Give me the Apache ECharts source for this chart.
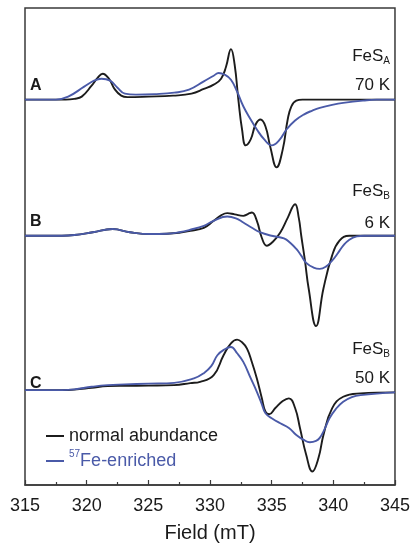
<!DOCTYPE html>
<html>
<head>
<meta charset="utf-8">
<style>
  html, body { margin: 0; padding: 0; background: #fff; }
  #chart { width: 413px; height: 548px; }
</style>
<script src="https://cdn.jsdelivr.net/npm/echarts@6/dist/echarts.min.js"></script>
</head>
<body>
<div id="chart"></div>
<script>
// EPR spectra, field in mT, signal in arbitrary units (derivative mode)
const fieldTicks = [315, 320, 325, 330, 335, 340, 345];
const panelLetters = ['A', 'B', 'C'];
const clusterNames = ['A', 'B', 'B'];
const temperatures = ['70 K', '6 K', '50 K'];
const baselines = [387, 250.3, 95.3];

// Panel A: FeS_A, 70 K
const aNormal = [
  [315, 0], [318.3, 0], [319.0, 0.8], [319.6, 3], [320.4, 14], [320.9, 22], [321.3, 26],
  [321.8, 21], [322.3, 10], [322.8, 4], [323.3, 2.5], [325, 3], [327, 4], [328.5, 6],
  [329.5, 10.7], [330.3, 15], [330.9, 21], [331.3, 33], [331.7, 50.7], [332.0, 35],
  [332.3, 0], [332.6, -30], [332.9, -46], [333.3, -40], [333.7, -25], [334.1, -20],
  [334.5, -27], [334.9, -48], [335.4, -68], [335.9, -50], [336.3, -20], [336.6, -6.7],
  [337.0, -1], [337.5, 0], [345, 0]
];
const aEnriched = [
  [315, 0], [317.5, 0], [318.5, 3], [319.8, 13], [320.6, 19], [321.2, 21], [321.9, 19],
  [322.5, 12], [323.1, 6], [324, 5], [325.5, 5.5], [327.1, 7], [328.3, 10], [329.5, 18.3],
  [330.3, 24], [330.7, 26.7], [331.2, 25], [331.7, 20], [332.2, 8], [332.7, -6.7],
  [333.3, -20], [333.8, -30], [334.4, -40], [335.0, -46], [335.6, -41], [336.2, -30],
  [336.9, -21], [337.6, -15], [338.3, -11], [338.9, -8.3], [340, -5], [340.8, -3.3],
  [342.4, -1], [343.5, 0], [345, 0]
];

// Panel B: FeS_B, 6 K
const bNormal = [
  [315, 0], [318, 0], [319, 0.7], [320.5, 3.5], [322.1, 6.7], [323.5, 3.5], [325.2, 1.7],
  [326.5, 2], [327.5, 3], [328.4, 5], [329.5, 8], [330.3, 15], [330.9, 20.5], [331.4, 22.7],
  [332.0, 21.5], [332.7, 20], [333.1, 22], [333.4, 23.3], [333.8, 15], [334.2, -2],
  [334.6, -10], [335.1, -6], [335.7, 3.3], [336.3, 18], [336.9, 31.7], [337.2, 18],
  [337.4, 0], [337.7, -25], [338.0, -53], [338.6, -90.7], [339.2, -53], [339.9, -20],
  [340.5, -5], [341.3, 0], [345, 0]
];
const bEnriched = [
  [315, 0], [318, 0], [319, 0.7], [320.5, 3.5], [322.1, 6.7], [323.5, 3.5], [325.2, 1.7],
  [326.5, 2], [327.5, 3.5], [328.4, 6], [329.5, 10], [330.3, 15], [331.4, 19.3],
  [332.1, 17.5], [332.7, 13.3], [333.4, 8], [334.1, 3.3], [335, 0], [336, -2.7],
  [336.5, -7], [337, -13.3], [337.4, -20], [337.8, -27.3], [338.4, -32], [338.9, -33.3],
  [339.4, -31], [339.9, -25], [340.4, -17], [340.8, -10], [341.3, -4], [341.9, -0.7],
  [342.5, 0], [345, 0]
];

// Panel C: FeS_B, 50 K
const cNormal = [
  [315, 0], [318, 0], [319, 0.5], [320.4, 2.3], [321.7, 4], [323.1, 4.3], [325, 4.5],
  [327.1, 5], [328.4, 7], [329.2, 8.3], [330.3, 15], [331.1, 35], [331.7, 47], [332.2, 50.7],
  [332.6, 48], [333.0, 41.7], [333.4, 28], [333.8, 11.7], [334.2, -8], [334.5, -21.7],
  [334.8, -24.3], [335.3, -18], [335.9, -11], [336.4, -8.3], [336.9, -18], [337.3, -38.3],
  [337.8, -65], [338.3, -81.7], [338.8, -68], [339.2, -45], [339.9, -18.3], [340.8, -6.7],
  [342.2, -3.3], [345, -2.3]
];
const cEnriched = [
  [315, 0], [318, 0], [319, 0.7], [320.4, 3.3], [321.7, 5], [323.1, 5.7], [325, 6.5],
  [327.1, 7.3], [328.7, 11.7], [329.5, 17], [330.1, 24], [330.6, 35], [331.2, 41],
  [331.7, 43.3], [332.2, 37], [332.7, 28.3], [333.3, 12], [333.8, -1.7], [334.2, -14],
  [334.5, -23.3], [335.1, -29], [335.7, -33.3], [336.4, -38], [337.0, -45], [337.6, -50],
  [338.1, -52.3], [338.6, -51], [338.9, -48], [339.3, -39], [339.7, -28], [340.2, -19],
  [340.8, -11.7], [341.5, -7], [342.2, -5], [345, -2.3]
];

const NORMAL = 'normal abundance';
const ENRICHED = '57Fe-enriched';
const BLACK = '#1c1c1c';
const BLUE = '#4a5aa8';
const FONT = '"Liberation Sans", Arial, sans-serif';

const normalTraces = [aNormal, bNormal, cNormal];
const enrichedTraces = [aEnriched, bEnriched, cEnriched];

function shifted(trace, base) {
  return trace.map(p => [p[0], p[1] + base]);
}

function lineSeries(name, color, trace, base) {
  return {
    type: 'line',
    name: name,
    data: shifted(trace, base),
    smooth: 0.45,
    showSymbol: false,
    symbol: 'none',
    animation: false,
    lineStyle: { color: color, width: 1.9 },
    itemStyle: { color: color },
    z: color === BLUE ? 3 : 2
  };
}

const series = [];
normalTraces.forEach((t, i) => series.push(lineSeries(NORMAL, BLACK, t, baselines[i])));
enrichedTraces.forEach((t, i) => series.push(lineSeries(ENRICHED, BLUE, t, baselines[i])));

// panel annotations
const letterY = [87, 222.5, 384.5];
const clusterY = [56, 191.5, 349];
const tempY = [85, 223, 378.5];
const graphics = [];
panelLetters.forEach((L, i) => {
  graphics.push({
    type: 'text', left: 30, top: letterY[i] - 9,
    style: { text: L, font: 'bold 16px ' + FONT, fill: '#1a1a1a' }
  });
  graphics.push({
    type: 'text', x: 390, y: clusterY[i],
    style: {
      text: '{m|FeS}{s|' + clusterNames[i] + '}',
      align: 'right', verticalAlign: 'middle',
      rich: {
        m: { fontSize: 17, lineHeight: 20, fontFamily: FONT, fill: '#1a1a1a' },
        s: { fontSize: 10, lineHeight: 10, verticalAlign: 'bottom', fontFamily: FONT, fill: '#1a1a1a' }
      }
    }
  });
  graphics.push({
    type: 'text', x: 390, y: tempY[i],
    style: {
      text: temperatures[i], align: 'right', verticalAlign: 'middle',
      font: '17px ' + FONT, fill: '#1a1a1a'
    }
  });
});

const chart = echarts.init(document.getElementById('chart'), null, { renderer: 'canvas' });
chart.setOption({
  animation: false,
  backgroundColor: '#ffffff',
  grid: {
    left: 25, right: 16, top: 8, bottom: 61,
    show: true, borderColor: '#3a3a3a', borderWidth: 1.5, backgroundColor: 'transparent'
  },
  xAxis: {
    type: 'value', min: fieldTicks[0], max: fieldTicks[fieldTicks.length - 1], interval: 5,
    name: 'Field (mT)', nameLocation: 'middle', nameGap: 38,
    nameTextStyle: { fontSize: 20, color: '#1a1a1a', fontFamily: FONT },
    axisLine: { show: true, lineStyle: { color: '#3a3a3a', width: 1.5 } },
    axisTick: { show: true, inside: true, length: 5, lineStyle: { color: '#3a3a3a', width: 1.2 } },
    minorTick: { show: true, splitNumber: 2, length: 3, lineStyle: { color: '#3a3a3a', width: 1.2 } },
    splitLine: { show: false },
    axisLabel: {
      margin: 12, fontSize: 18, color: '#1a1a1a', fontFamily: FONT,
      showMinLabel: true, showMaxLabel: true
    }
  },
  yAxis: {
    type: 'value', min: 0, max: 479, show: false, splitLine: { show: false }
  },
  legend: {
    orient: 'vertical', left: 46, top: 424, padding: 0, itemWidth: 18, itemHeight: 2, itemGap: 1,
    icon: 'rect', selectedMode: false,
    data: [
      { name: NORMAL, textStyle: { color: '#1a1a1a' } },
      { name: ENRICHED, textStyle: { color: BLUE } }
    ],
    textStyle: {
      fontSize: 18, lineHeight: 24, fontFamily: FONT,
      rich: {
        sup: { fontSize: 10, lineHeight: 10, verticalAlign: 'top', color: BLUE, fontFamily: FONT },
        t: { fontSize: 18, lineHeight: 24, color: BLUE, fontFamily: FONT },
        n: { fontSize: 18, lineHeight: 24, color: '#1a1a1a', fontFamily: FONT }
      }
    },
    formatter: function (name) {
      return name === ENRICHED ? '{sup|57}{t|Fe-enriched}' : '{n|' + name + '}';
    }
  },
  graphic: graphics,
  series: series
});
</script>
</body>
</html>
